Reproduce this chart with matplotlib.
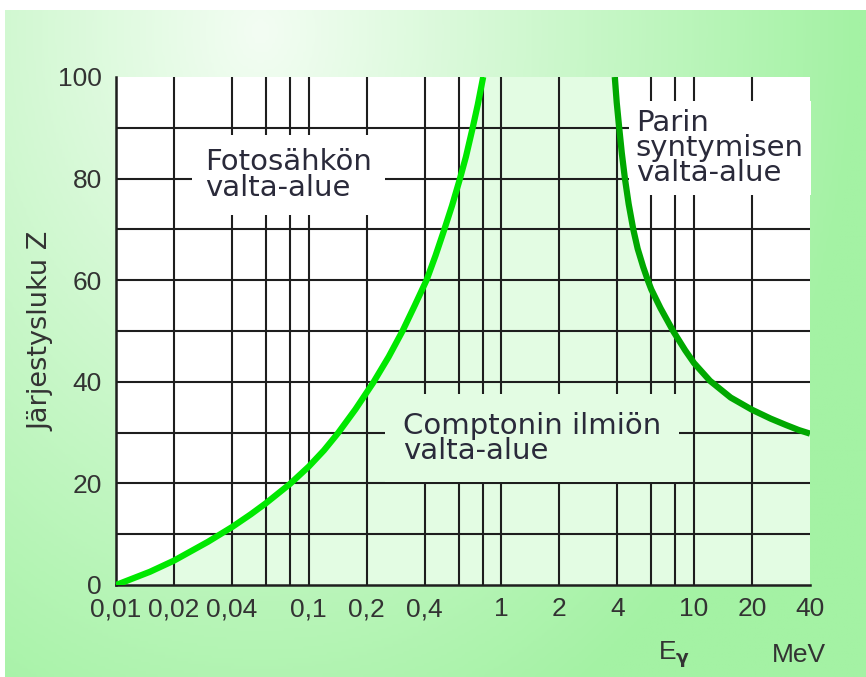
import matplotlib
matplotlib.use('Agg')
import matplotlib.pyplot as plt
import numpy as np
from matplotlib.colors import LinearSegmentedColormap

# photoelectric / Compton boundary (E in MeV, Z)
photo_E = [0.01, 0.015, 0.02, 0.03, 0.04, 0.05, 0.06, 0.08, 0.1, 0.12, 0.142, 0.175,
           0.216, 0.26, 0.307, 0.355, 0.409, 0.455, 0.506, 0.555, 0.61, 0.655, 0.71, 0.755, 0.805]
photo_Z = [0, 2.6, 4.8, 8.5, 11.4, 13.9, 16.1, 19.9, 23.3, 26.5, 29.9, 34.6,
           39.8, 44.9, 50, 55.0, 60, 64.8, 70, 74.7, 80, 84.3, 90, 94.6, 100]

# Compton / pair production boundary
pair_E = [3.88, 3.97, 4.09, 4.22, 4.38, 4.58, 4.84, 5.1, 5.45, 5.78, 6.0, 6.7, 7.79, 8.0,
          9.0, 10, 12.1, 15.5, 20, 25, 30, 35, 40]
pair_Z = [100, 95, 90, 85, 80, 75, 70, 66.2, 62.6, 59.8, 58.2, 54.5, 50, 49.3,
          46.2, 43.7, 40.2, 36.9, 34.5, 32.75, 31.5, 30.5, 29.8]

grid_E = [0.01, 0.02, 0.04, 0.06, 0.08, 0.1, 0.2, 0.4, 0.6, 0.8, 1, 2, 4, 6, 8, 10, 20]
grid_Z = [10, 20, 30, 40, 50, 60, 70, 80, 90]
xtick_vals = [0.01, 0.02, 0.04, 0.1, 0.2, 0.4, 1, 2, 4, 10, 20, 40]
xtick_labels = ['0,01', '0,02', '0,04', '0,1', '0,2', '0,4', '1', '2', '4', '10', '20', '40']
ytick_vals = [0, 20, 40, 60, 80, 100]

label_font = ['Liberation Sans', 'DejaVu Sans']
note_font = ['DejaVu Sans']
plt.rcParams['font.family'] = label_font

W, H = 866, 677
fig = plt.figure(figsize=(W / 100, H / 100), dpi=100)
fig.patch.set_facecolor('white')

# green gradient background
bg = fig.add_axes([5 / W, 0, 1 - 5 / W, 1 - 10 / H], zorder=-10)
gx, gy = np.meshgrid(np.linspace(5, W, 300), np.linspace(10, H, 240))
t = np.clip(np.sqrt(((gx - 260) / 600) ** 2 + ((gy - 30) / 780) ** 2), 0, 1)
cmap = LinearSegmentedColormap.from_list('g', ['#f3fdf3', '#a4f2a4'])
bg.imshow(t, cmap=cmap, aspect='auto', extent=[0, 1, 0, 1], vmin=0, vmax=1)
bg.axis('off')

ax = fig.add_axes([116 / W, 1 - 585 / H, (810 - 116) / W, (585 - 77) / H])
ax.set_facecolor('white')
ax.set_xscale('log')
ax.set_xlim(0.01, 40)
ax.set_ylim(0, 100)

# Compton region fill between the two boundaries
xlo, xhi = ax.get_xlim()
ylo, yhi = ax.get_ylim()
poly_x = list(photo_E) + list(pair_E) + [xhi, xlo]
poly_y = list(photo_Z) + list(pair_Z) + [ylo, ylo]
ax.fill(poly_x, poly_y, color='#e3fce3', lw=0, zorder=1)

for e in grid_E:
    ax.axvline(e, color='#1e1e1e', lw=1.5, zorder=2)
for z in grid_Z:
    ax.axhline(z, color='#1e1e1e', lw=1.5, zorder=2)

ax.plot(photo_E, photo_Z, color='#00e800', lw=4.5, zorder=6, solid_capstyle='butt',
        solid_joinstyle='round')
ax.plot(pair_E, pair_Z, color='#00a800', lw=4.5, zorder=6, solid_capstyle='butt',
        solid_joinstyle='round')

for s in ['top', 'right']:
    ax.spines[s].set_visible(False)
for s in ['left', 'bottom']:
    ax.spines[s].set_color('#1e1e1e')
    ax.spines[s].set_linewidth(1.8)

ax.set_xticks(xtick_vals)
ax.set_xticklabels(xtick_labels)
ax.xaxis.set_minor_locator(matplotlib.ticker.NullLocator())
ax.set_yticks(ytick_vals)
ax.tick_params(length=0, labelcolor='#333333', labelsize=19)
ax.tick_params(axis='x', pad=9)
ax.tick_params(axis='y', pad=10)

ax.set_ylabel('Järjestysluku Z', family=note_font, fontsize=19.5, color='#333333', labelpad=3)

txt = '#2a2a3a'
ax.text(0.029, 80.7, 'Fotosähkön\nvalta-alue', fontsize=21, family=note_font, color=txt,
        va='center', ha='left', linespacing=0.88, zorder=5,
        bbox=dict(boxstyle='square,pad=0.45', fc='white', ec='none'))
ax.text(0.308, 28.9, 'Comptonin ilmiön\nvalta-alue', fontsize=21, family=note_font, color=txt,
        va='center', ha='left', linespacing=0.88, zorder=5,
        bbox=dict(boxstyle='square,pad=0.6', fc='#e3fce3', ec='none'))
ax.text(4.99, 86, 'Parin\nsyntymisen\nvalta-alue', fontsize=21, family=note_font, color=txt,
        va='center', ha='left', linespacing=0.88, zorder=5,
        bbox=dict(boxstyle='square,pad=0.25', fc='white', ec='none'))

fig.text(658 / W, 1 - 655 / H, r'E$_{\mathbf{\gamma}}$', fontsize=19, color='#333333',
         ha='left', va='center')
fig.text(826 / W, 1 - 655 / H, 'MeV', fontsize=19, color='#333333', ha='right', va='center')

fig.savefig('out.png', dpi=100)
